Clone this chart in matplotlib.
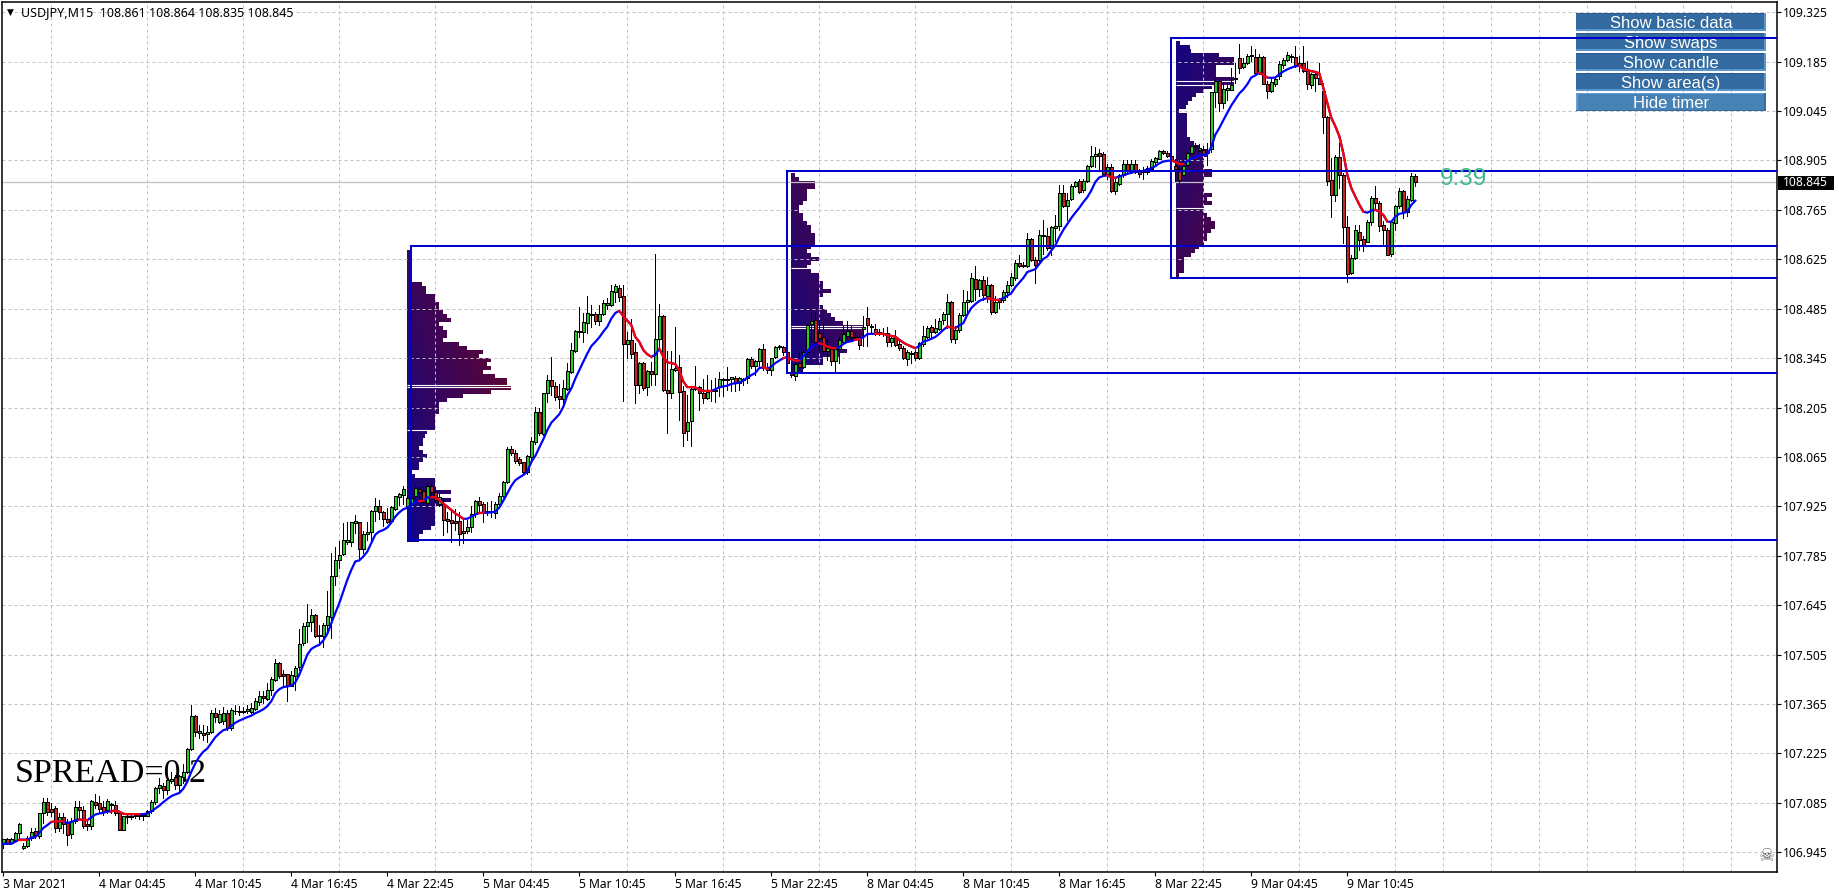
import numpy as np
import matplotlib
matplotlib.use("Agg")
import matplotlib.pyplot as plt
from matplotlib.collections import LineCollection
from matplotlib.patches import Rectangle
from matplotlib.transforms import Affine2D

# USDJPY M15, one row per 10 bars
opens = [
106.970,106.983,106.970,106.981,107.000,106.958,106.962,106.986,107.006,106.991,
107.055,107.088,107.069,107.071,107.014,107.045,107.028,106.997,107.035,107.074,
107.066,107.024,107.019,107.088,107.085,107.074,107.064,107.078,107.080,107.057,
107.009,107.045,107.046,107.047,107.047,107.049,107.047,107.061,107.088,107.127,
107.134,107.121,107.146,107.158,107.135,107.158,107.173,107.239,107.332,107.283,
107.284,107.279,107.287,107.339,107.315,107.318,107.339,107.296,107.346,107.345,
107.345,107.345,107.343,107.352,107.372,107.389,107.380,107.404,107.434,107.482,
107.451,107.450,107.415,107.445,107.469,107.537,107.585,107.597,107.618,107.562,
107.557,107.588,107.611,107.729,107.772,107.790,107.824,107.823,107.879,107.880,
107.804,107.846,107.852,107.911,107.927,107.910,107.888,107.884,107.919,107.952,
107.957,107.926,107.930,107.954,107.973,107.969,107.935,107.983,107.967,107.933,
107.933,107.889,107.886,107.883,107.883,107.855,107.855,107.866,107.903,107.940,
107.931,107.909,107.909,107.907,107.931,107.954,107.995,108.089,108.075,108.058,
108.050,108.023,108.066,108.108,108.192,108.130,108.245,108.283,108.266,108.237,
108.229,108.258,108.305,108.366,108.419,108.420,108.445,108.467,108.470,108.451,
108.469,108.496,108.496,108.533,108.545,108.521,108.385,108.396,108.361,108.269,
108.330,108.264,108.308,108.299,108.398,108.464,108.256,108.245,108.311,108.319,
108.252,108.140,108.166,108.258,108.263,108.246,108.232,108.252,108.253,108.262,
108.283,108.283,108.285,108.288,108.276,108.282,108.288,108.343,108.324,108.338,
108.371,108.316,108.312,108.348,108.376,108.376,108.361,108.304,108.295,108.331,
108.321,108.363,108.442,108.452,108.416,108.404,108.366,108.371,108.336,108.370,
108.392,108.408,108.421,108.406,108.406,108.428,108.460,108.432,108.427,108.418,
108.416,108.416,108.392,108.406,108.386,108.373,108.343,108.357,108.361,108.345,
108.386,108.404,108.432,108.418,108.428,108.452,108.470,108.504,108.400,108.425,
108.466,108.503,108.508,108.570,108.541,108.567,108.522,108.553,108.477,108.510,
108.510,108.531,108.553,108.572,108.614,108.607,108.607,108.683,108.623,108.623,
108.690,108.691,108.657,108.715,108.720,108.812,108.776,108.795,108.834,108.848,
108.820,108.846,108.889,108.919,108.927,108.924,108.867,108.886,108.818,108.839,
108.863,108.896,108.877,108.896,108.877,108.872,108.872,108.881,108.900,108.910,
108.933,108.927,108.917,108.890,108.882,108.865,108.891,108.926,108.947,108.936,
108.936,108.925,108.938,109.099,109.129,109.068,109.104,109.106,109.135,109.196,
109.171,109.182,109.201,109.199,109.154,109.199,109.122,109.103,109.123,109.144,
109.176,109.190,109.199,109.199,109.182,109.182,109.158,109.118,109.149,109.138,
109.102,109.028,108.851,108.806,108.915,108.865,108.716,108.585,108.629,108.703,
108.682,108.673,108.730,108.799,108.784,108.723,108.709,108.640,108.728,108.775,
108.819,108.758,108.794,108.862]
highs = [
106.983,106.985,106.986,107.003,107.028,106.970,106.991,107.014,107.014,107.056,
107.099,107.099,107.085,107.076,107.055,107.055,107.038,107.043,107.090,107.090,
107.076,107.033,107.093,107.109,107.104,107.090,107.096,107.085,107.090,107.059,
107.047,107.052,107.055,107.055,107.057,107.057,107.066,107.094,107.130,107.156,
107.142,107.161,107.173,107.165,107.165,107.196,107.241,107.363,107.335,107.307,
107.307,107.302,107.348,107.353,107.348,107.357,107.348,107.353,107.362,107.359,
107.356,107.362,107.367,107.382,107.403,107.401,107.424,107.443,107.494,107.484,
107.462,107.451,107.458,107.474,107.578,107.594,107.649,107.634,107.621,107.590,
107.596,107.686,107.793,107.809,107.826,107.878,107.880,107.882,107.901,107.882,
107.854,107.880,107.915,107.948,107.944,107.913,107.920,107.927,107.955,107.962,
107.983,107.957,107.960,107.985,107.981,107.981,107.990,107.990,107.981,107.962,
107.948,107.910,107.919,107.919,107.910,107.888,107.886,107.926,107.943,107.952,
107.938,107.938,107.941,107.938,107.962,107.998,108.094,108.096,108.085,108.066,
108.052,108.070,108.122,108.207,108.203,108.247,108.297,108.349,108.278,108.271,
108.283,108.332,108.387,108.424,108.489,108.472,108.521,108.495,108.477,108.495,
108.509,108.514,108.552,108.555,108.552,108.552,108.420,108.455,108.387,108.335,
108.335,108.311,108.335,108.641,108.498,108.467,108.366,108.366,108.434,108.354,
108.265,108.241,108.265,108.323,108.267,108.286,108.298,108.282,108.288,108.307,
108.290,108.321,108.293,108.295,108.293,108.288,108.345,108.348,108.340,108.373,
108.386,108.331,108.345,108.380,108.383,108.378,108.370,108.331,108.331,108.361,
108.369,108.444,108.472,108.477,108.454,108.445,108.402,108.378,108.378,108.406,
108.435,108.449,108.435,108.416,108.414,108.463,108.489,108.442,108.442,108.427,
108.430,108.432,108.411,108.425,108.397,108.378,108.369,108.364,108.369,108.392,
108.435,108.437,108.440,108.455,108.458,108.475,108.527,108.506,108.435,108.473,
108.539,108.534,108.586,108.606,108.569,108.578,108.576,108.556,108.520,108.515,
108.539,108.563,108.586,108.624,108.638,108.618,108.699,108.685,108.632,108.708,
108.737,108.713,108.718,108.751,108.836,108.836,108.813,108.839,108.848,108.853,
108.853,108.891,108.946,108.943,108.938,108.929,108.896,108.896,108.853,108.867,
108.905,108.905,108.905,108.905,108.882,108.886,108.889,108.910,108.915,108.936,
108.936,108.933,108.925,108.908,108.905,108.905,108.930,108.950,108.955,108.953,
108.945,108.955,109.099,109.137,109.135,109.125,109.125,109.168,109.182,109.234,
109.196,109.206,109.230,109.220,109.206,109.201,109.130,109.137,109.140,109.187,
109.196,109.211,109.206,109.230,109.201,109.230,109.187,109.154,109.154,109.180,
109.125,109.030,108.912,108.921,108.955,108.870,108.747,108.638,108.723,108.723,
108.690,108.737,108.803,108.834,108.789,108.733,108.713,108.737,108.780,108.827,
108.822,108.803,108.870,108.868]
lows = [
106.958,106.968,106.968,106.980,106.986,106.955,106.960,106.981,106.986,106.986,
107.028,107.052,107.047,107.002,107.005,107.000,106.965,106.986,107.028,107.038,
107.014,107.008,107.011,107.071,107.057,107.052,107.057,107.055,107.052,107.008,
107.009,107.028,107.038,107.043,107.040,107.036,107.047,107.057,107.083,107.113,
107.099,107.109,107.142,107.123,107.113,107.142,107.170,107.236,107.274,107.270,
107.264,107.257,107.283,107.315,107.310,107.308,107.291,107.291,107.337,107.334,
107.339,107.339,107.339,107.349,107.363,107.368,107.377,107.391,107.429,107.439,
107.415,107.373,107.415,107.406,107.462,107.533,107.542,107.571,107.554,107.533,
107.528,107.571,107.552,107.703,107.750,107.788,107.819,107.813,107.849,107.774,
107.793,107.829,107.829,107.885,107.889,107.870,107.878,107.880,107.915,107.929,
107.933,107.919,107.915,107.948,107.941,107.933,107.932,107.952,107.938,107.925,
107.844,107.853,107.825,107.858,107.815,107.820,107.850,107.853,107.896,107.905,
107.882,107.900,107.896,107.891,107.924,107.952,107.990,108.070,108.047,108.042,
108.020,108.018,108.056,108.103,108.127,108.127,108.221,108.240,108.226,108.203,
108.212,108.254,108.302,108.363,108.405,108.391,108.415,108.432,108.443,108.439,
108.467,108.483,108.492,108.505,108.508,108.224,108.344,108.344,108.219,108.245,
108.254,108.240,108.269,108.269,108.377,108.253,108.134,108.231,108.308,108.170,
108.095,108.114,108.095,108.255,108.197,108.218,108.229,108.225,108.222,108.239,
108.239,108.255,108.251,108.253,108.255,108.269,108.274,108.317,108.298,108.317,
108.312,108.304,108.298,108.345,108.370,108.354,108.325,108.293,108.284,108.317,
108.317,108.359,108.392,108.387,108.369,108.359,108.340,108.326,108.307,108.331,
108.387,108.398,108.396,108.398,108.371,108.378,108.378,108.420,108.411,108.411,
108.408,108.378,108.378,108.378,108.368,108.342,108.326,108.331,108.341,108.342,
108.378,108.401,108.401,108.416,108.425,108.443,108.430,108.392,108.387,108.420,
108.463,108.472,108.505,108.510,108.520,108.510,108.505,108.471,108.472,108.488,
108.505,108.517,108.548,108.567,108.604,108.602,108.604,108.619,108.559,108.618,
108.640,108.652,108.638,108.676,108.709,108.772,108.737,108.792,108.829,108.813,
108.815,108.845,108.886,108.886,108.881,108.864,108.853,108.815,108.810,108.836,
108.858,108.872,108.872,108.870,108.858,108.853,108.867,108.876,108.893,108.908,
108.924,108.914,108.900,108.846,108.840,108.860,108.888,108.922,108.935,108.931,
108.920,108.892,108.930,109.057,109.045,109.054,109.076,109.104,109.125,109.154,
109.168,109.177,109.187,109.149,109.149,109.121,109.083,109.100,109.116,109.137,
109.168,109.187,109.184,109.171,109.158,109.157,109.108,109.111,109.102,109.121,
108.983,108.836,108.744,108.789,108.827,108.671,108.561,108.582,108.625,108.652,
108.648,108.673,108.723,108.766,108.704,108.662,108.638,108.633,108.709,108.770,
108.742,108.747,108.789,108.834]
closes = [
106.983,106.970,106.984,107.000,107.024,106.964,106.986,107.003,106.995,107.055,
107.087,107.059,107.059,107.014,107.045,107.026,106.995,107.035,107.074,107.064,
107.019,107.019,107.091,107.080,107.069,107.060,107.090,107.083,107.055,107.009,
107.047,107.047,107.048,107.051,107.052,107.051,107.061,107.088,107.127,107.137,
107.121,107.149,107.154,107.135,107.161,107.173,107.239,107.332,107.285,107.289,
107.278,107.287,107.340,107.329,107.337,107.339,107.296,107.348,107.344,107.343,
107.343,107.351,107.353,107.374,107.389,107.381,107.406,107.437,107.482,107.445,
107.445,107.415,107.448,107.468,107.535,107.586,107.597,107.618,107.559,107.557,
107.590,107.614,107.727,107.773,107.788,107.829,107.829,107.880,107.883,107.805,
107.847,107.853,107.912,107.927,107.908,107.889,107.882,107.922,107.954,107.959,
107.973,107.950,107.950,107.976,107.967,107.938,107.984,107.967,107.943,107.952,
107.886,107.883,107.879,107.877,107.847,107.849,107.866,107.903,107.940,107.929,
107.905,107.911,107.911,107.933,107.954,107.995,108.087,108.075,108.054,108.049,
108.023,108.068,108.109,108.192,108.132,108.245,108.283,108.266,108.236,108.230,
108.260,108.308,108.368,108.421,108.421,108.446,108.474,108.471,108.451,108.469,
108.500,108.500,108.534,108.549,108.519,108.385,108.396,108.356,108.268,108.330,
108.261,108.308,108.300,108.398,108.463,108.256,108.245,108.313,108.316,108.250,
108.134,108.164,108.258,108.260,108.246,108.232,108.249,108.254,108.256,108.286,
108.286,108.286,108.291,108.274,108.288,108.285,108.343,108.324,108.338,108.371,
108.317,108.312,108.345,108.376,108.379,108.361,108.330,108.296,108.329,108.321,
108.362,108.439,108.449,108.392,108.402,108.366,108.373,108.336,108.371,108.397,
108.413,108.421,108.404,108.402,108.381,108.432,108.439,108.435,108.414,108.414,
108.414,108.392,108.402,108.383,108.373,108.345,108.361,108.360,108.346,108.387,
108.408,108.430,108.420,108.430,108.450,108.471,108.504,108.400,108.425,108.468,
108.504,108.510,108.573,108.541,108.565,108.524,108.553,108.477,108.504,108.505,
108.531,108.553,108.576,108.614,108.606,108.609,108.683,108.622,108.609,108.693,
108.694,108.657,108.716,108.719,108.812,108.776,108.793,108.832,108.844,108.815,
108.848,108.889,108.919,108.924,108.919,108.867,108.886,108.818,108.844,108.863,
108.896,108.877,108.896,108.872,108.867,108.876,108.883,108.903,108.912,108.933,
108.927,108.917,108.905,108.880,108.851,108.889,108.926,108.947,108.942,108.940,
108.924,108.930,109.099,109.129,109.068,109.108,109.111,109.118,109.140,109.168,
109.182,109.201,109.203,109.154,109.199,109.121,109.103,109.128,109.135,109.177,
109.190,109.203,109.201,109.173,109.173,109.158,109.121,109.149,109.138,109.123,
109.028,108.848,108.806,108.915,108.863,108.716,108.582,108.629,108.709,108.680,
108.666,108.732,108.799,108.784,108.720,108.707,108.638,108.730,108.775,108.819,
108.758,108.796,108.862,108.845]
ma_line = [
106.969,106.969,106.969,106.975,106.981,106.981,106.981,106.986,106.988,107.000,
107.014,107.022,107.031,107.033,107.033,107.033,107.028,107.031,107.036,107.038,
107.037,107.036,107.044,107.052,107.055,107.057,107.060,107.061,107.064,107.060,
107.054,107.053,107.053,107.053,107.053,107.053,107.055,107.061,107.069,107.077,
107.087,107.096,107.104,107.109,107.113,107.125,107.145,107.173,107.197,107.216,
107.230,107.239,107.255,107.271,107.282,107.291,107.294,107.303,107.312,107.318,
107.323,107.328,107.332,107.339,107.344,107.350,107.359,107.373,107.396,107.407,
107.413,107.415,107.417,107.426,107.448,107.476,107.505,107.521,107.528,107.533,
107.545,107.564,107.594,107.623,107.651,107.684,107.717,107.745,107.769,107.772,
107.783,107.797,107.821,107.845,107.854,107.858,107.865,107.879,107.896,107.908,
107.917,107.921,107.929,107.938,107.940,107.941,107.950,107.951,107.951,107.943,
107.933,107.924,107.915,107.905,107.898,107.890,107.890,107.896,107.902,107.906,
107.907,107.907,107.908,107.910,107.922,107.941,107.962,107.983,107.999,108.007,
108.014,108.023,108.051,108.068,108.092,108.115,108.141,108.162,108.174,108.186,
108.207,108.240,108.259,108.287,108.311,108.335,108.358,108.379,108.391,108.404,
108.420,108.434,108.457,108.473,108.479,108.464,108.451,108.439,108.405,108.391,
108.368,108.356,108.349,108.354,108.372,108.349,108.333,108.331,108.328,108.310,
108.279,108.263,108.263,108.262,108.255,108.252,108.252,108.252,108.257,108.262,
108.265,108.267,108.272,108.274,108.275,108.281,108.290,108.297,108.303,108.317,
108.319,108.315,108.321,108.331,108.338,108.345,108.348,108.342,108.338,108.338,
108.350,108.364,108.378,108.384,108.387,108.384,108.378,108.374,108.373,108.376,
108.385,108.391,108.393,108.397,108.399,108.404,108.413,108.414,108.414,108.414,
108.414,108.410,108.408,108.406,108.397,108.389,108.383,108.378,108.373,108.380,
108.392,108.395,108.400,108.405,108.414,108.425,108.434,108.432,108.430,108.438,
108.444,108.468,108.487,108.498,108.507,108.512,108.515,108.512,108.510,108.510,
108.515,108.522,108.529,108.546,108.559,108.572,108.589,108.593,108.597,108.612,
108.626,108.633,108.650,108.664,108.688,108.708,108.725,108.742,108.757,108.771,
108.787,108.801,108.820,108.844,108.857,108.861,108.863,108.857,108.856,108.860,
108.863,108.867,108.870,108.873,108.874,108.875,108.880,108.883,108.889,108.897,
108.902,108.904,108.905,108.901,108.895,108.895,108.903,108.910,108.915,108.919,
108.921,108.923,108.943,108.978,108.997,109.019,109.040,109.061,109.078,109.095,
109.106,109.121,109.140,109.146,109.154,109.147,109.140,109.139,109.140,109.149,
109.157,109.163,109.168,109.172,109.173,109.165,109.161,109.158,109.156,109.152,
109.111,109.068,109.026,109.002,108.974,108.926,108.865,108.827,108.803,108.780,
108.760,108.757,108.763,108.765,108.760,108.751,108.732,108.731,108.746,108.754,
108.756,108.760,108.779,108.791]
# bar ranges where the average is painted red
ma_red = [(4,6),(12,15),(19,21),(27,34),(104,105),(107,115),(119,120),(154,162),
          (164,177),(190,191),(195,199),(204,208),(213,214),(218,228),(236,238),
          (246,249),(276,278),(292,295),(314,316),(324,340),(343,346)]

# market profiles: bar length per price row, top row first
profile1 = [3,3,3,3,3,3,3,3,15,19,19,28,28,32,32,36,40,44,32,36,40,40,36,52,60,76,72,84,80,84,76,88,100,100,104,
            84,56,40,32,32,32,28,28,28,28,20,18,16,16,12,16,20,16,12,12,4,8,28,28,28,44,28,44,36,28,28,28,28,28,24,16,12,12]
profile2 = [4,8,24,24,16,16,16,12,8,8,12,12,16,20,20,24,24,24,20,16,20,28,20,16,20,28,28,32,32,40,32,28,28,32,36,40,44,
            52,72,72,72,64,48,48,56,48,32,32,12,12]
profile3 = [4,14,15,43,58,58,40,40,40,58,58,36,28,20,16,12,10,3,11,11,11,11,11,11,14,18,24,32,32,28,28,28,36,36,28,28,
            28,28,36,31,36,28,28,31,35,39,39,35,31,31,28,23,19,15,8,8,8,8,3]
profile_start = [101, 196.85, 293.1]
profile_top = [108.652, 108.870, 109.242]
profile_heat = [(0.45, 0.0), (0.42, 0.05), (0.03, 0.45)]
profile_gaps = [[(108.269,104),(108.262,104),(108.141,28)],
                [(108.437,72),(108.430,72),(108.600,28)],
                [(109.129,60),(109.118,60),(108.769,28)]]
row_step = 0.01133

# blue boxes: first bar, top price, bottom price
boxes = [(102, 108.6637, 107.8298), (196, 108.8753, 108.3039), (292, 109.2513, 108.5730)]

y_ticks = [109.325,109.185,109.045,108.905,108.765,108.625,108.485,108.345,108.205,
           108.065,107.925,107.785,107.645,107.505,107.365,107.225,107.085,106.945]
x_labels = ["3 Mar 2021","4 Mar 04:45","4 Mar 10:45","4 Mar 16:45","4 Mar 22:45","5 Mar 04:45",
            "5 Mar 10:45","5 Mar 16:45","5 Mar 22:45","8 Mar 04:45","8 Mar 10:45","8 Mar 16:45",
            "8 Mar 22:45","9 Mar 04:45","9 Mar 10:45"]
button_labels = ["Show basic data","Show swaps","Show candle","Show area(s)","Hide timer"]
last_price = 108.845

UI_FONT = "Noto Sans"

fig = plt.figure(figsize=(18.4, 8.96), dpi=100, facecolor="white")
# axes box in pixels: 2.5..1776.5 across, 2..872 down
ax = fig.add_axes([2.5/1840, 1-872/896, 1774/1840, 870/896])
px = Affine2D().scale(1, -1).translate(0, 896)  # top-left pixel coordinates

n = len(closes)
x = np.arange(n)
o, h, l, c = map(np.array, (opens, highs, lows, closes))

# profiles, drawn as image rows so the colour can run along each row
blue = np.array([0x10, 0x05, 0x85]) / 255
red = np.array([0x70, 0x05, 0x20]) / 255
for counts, start, top, heat, gaps in zip([profile1, profile2, profile3], profile_start,
                                          profile_top, profile_heat, profile_gaps):
    rows = len(counts)
    cols = max(counts)
    img = np.zeros((rows, cols, 4))
    for r, cnt in enumerate(counts):
        row_heat = heat[0] + (heat[1]-heat[0]) * r / (rows-1)
        for k in range(cnt):
            t = min(row_heat + 0.55 * k / 104, 1)
            img[r, k, :3] = blue + (red-blue) * t
            img[r, k, 3] = 1
    ax.imshow(img, extent=[start, start + cols*0.25, top - rows*row_step, top],
              aspect="auto", interpolation="nearest", zorder=0.5)
    for level, length in gaps:
        ax.plot([start, start + length*0.25], [level, level], color="white", lw=0.8,
                solid_capstyle="butt", zorder=0.8)

ax.set_xlim(-0.2, 443.3)
ax.set_ylim(106.8892, 109.354)

# grid
ax.set_yticks(y_ticks)
ax.set_xticks(np.arange(len(x_labels))*24)
ax.set_xticks(np.arange(0, 444, 12), minor=True)
ax.grid(True, which="minor", axis="x", color="#c0c0c0", ls=(0, (3, 3)), lw=0.72)
ax.grid(True, which="major", axis="y", color="#c0c0c0", ls=(0, (3, 3)), lw=0.72)
ax.axhline(last_price, color="#c0c0c0", lw=0.9, zorder=1.6)

ax.text(15, 774, "SPREAD=0.2", transform=px, family="Liberation Serif", fontsize=24.5,
        va="center", color="black", zorder=2)

# candles
wicks = LineCollection([[(i, l[i]), (i, h[i])] for i in x], colors="black", linewidths=0.72,
                       antialiaseds=False, zorder=3)
ax.add_collection(wicks)
up = c >= o
body_top = np.maximum(o, c)
body_bot = np.minimum(o, c)
ax.bar(x[up], (body_top-body_bot)[up], bottom=body_bot[up], width=0.72, color="#22cc22",
       edgecolor="black", linewidth=0.72, antialiased=False, zorder=4)
ax.bar(x[~up], (body_top-body_bot)[~up], bottom=body_bot[~up], width=0.72, color="#cc2222",
       edgecolor="black", linewidth=0.72, antialiased=False, zorder=4)

# moving average, blue with red stretches
ma = np.array(ma_line)
ax.plot(x, ma, color="#0000ff", lw=1.6, zorder=5)
for a, b in ma_red:
    ax.plot(x[a:b+1], ma[a:b+1], color="#ff0000", lw=1.6, zorder=5.1)

# buttons sit under the box lines
for i, name in enumerate(button_labels):
    y0 = 12.7 + 20*i
    if i < 4:
        ax.add_patch(Rectangle((1576, y0), 190, 18, transform=px, fc="#5b97cf", ec="none", clip_on=False, zorder=2.4))
        ax.add_patch(Rectangle((1576, y0), 188, 16.5, transform=px, fc="#336a9f", ec="none", clip_on=False, zorder=2.5))
        ax.add_patch(Rectangle((1576, y0), 188, 1.5, transform=px, fc="#2b5a8a", ec="none", clip_on=False, zorder=2.5))
    else:
        ax.add_patch(Rectangle((1576, y0), 190, 18, transform=px, fc="#336a9f", ec="none", clip_on=False, zorder=2.4))
        ax.add_patch(Rectangle((1576, y0), 188, 17, transform=px, fc="#6b9ed0", ec="none", clip_on=False, zorder=2.5))
        ax.add_patch(Rectangle((1578, y0+1.5), 186, 15.5, transform=px, fc="#4682b4", ec="none", clip_on=False, zorder=2.6))
    ax.text(1671, y0+10.5, name, transform=px, family="Liberation Sans", fontsize=12, color="white",
            ha="center", va="center", zorder=2.7)

# boxes and their levels, these run out to the right edge
for first, top, bottom in boxes:
    ax.plot([first, first], [bottom, top], color="#0000cd", lw=1.45, zorder=6)
    ax.plot([first, 443.3], [top, top], color="#0000cd", lw=1.45, zorder=6)
    ax.plot([first, 443.3], [bottom, bottom], color="#0000cd", lw=1.45, zorder=6)

# axis look
for s in ax.spines.values():
    s.set_linewidth(1.1)
ax.yaxis.tick_right()
ax.tick_params(axis="y", which="major", length=2.9, width=0.8, pad=1.8, labelsize=8.7)
ax.tick_params(axis="x", which="major", length=2.9, width=0.8, pad=1.5, labelsize=8.7)
ax.tick_params(axis="x", which="minor", length=0)
ax.set_yticklabels(["%.3f" % v for v in y_ticks], family=UI_FONT)
ax.set_xticklabels(x_labels, family=UI_FONT, ha="left")

# chart header, timer, price tag, corner icon
ax.text(10, 12.5, "\u25bc", transform=px, family="DejaVu Sans", fontsize=6.5, ha="center", va="center", color="black")
ax.text(21, 13, "USDJPY,M15  108.861 108.864 108.835 108.845", transform=px, family=UI_FONT,
        fontsize=9, va="center", color="black")
ax.text(1440, 179, "9:39", transform=px, family="Liberation Sans", fontsize=17.5, va="center",
        color="#3cb88b", zorder=7)
ax.add_patch(Rectangle((1778, 175.5), 56, 14, transform=px, fc="black", ec="none", clip_on=False, zorder=7))
ax.text(1783, 182.5, "108.845", transform=px, family=UI_FONT, fontsize=8.7, va="center", color="white", zorder=8)
ax.text(1767, 856, "\u2620", transform=px, family="DejaVu Sans", fontsize=13, ha="center", va="center", color="#666666")

fig.savefig("out.png", dpi=100)
